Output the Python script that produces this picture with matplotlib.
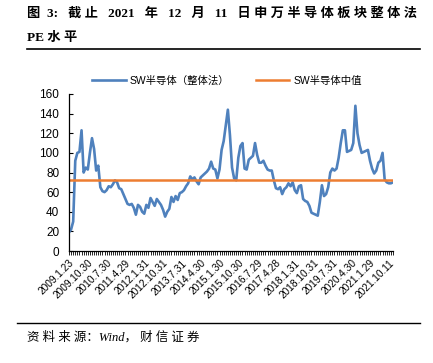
import matplotlib
matplotlib.use("Agg")
import matplotlib.pyplot as plt
import numpy as np

plt.rcParams['font.family'] = ['Liberation Sans', 'Noto Sans CJK SC', 'DejaVu Sans']

pe_values = [19, 22, 30, 92, 100, 101, 123, 80, 85, 83,
             100, 115, 104, 82, 87, 65, 61, 60, 62, 66,
             65, 68, 72, 70, 64, 63, 58, 53, 48, 47,
             48, 44, 37, 47, 45, 40, 38, 47, 44, 54,
             50, 46, 53, 50, 47, 42, 35, 40, 43, 55,
             50, 56, 52, 59, 60, 62, 66, 69, 76, 73,
             75, 71, 68, 75, 77, 79, 81, 84, 91, 84,
             83, 74, 83, 103, 112, 128, 144, 118, 85, 74,
             72, 95, 107, 110, 84, 83, 93, 95, 97, 110,
             98, 90, 90, 92, 87, 83, 82, 82, 72, 64,
             63, 65, 58, 63, 65, 69, 66, 70, 62, 59,
             66, 67, 53, 51, 50, 46, 39, 38, 37, 36,
             50, 67, 56, 58, 65, 80, 84, 82, 84, 95,
             110, 123, 123, 101, 102, 103, 110, 148, 120, 108,
             100, 101, 102, 103, 92, 84, 79, 82, 90, 92,
             100, 73, 70, 69, 69, 70]
median_value = 72.3

tick_labels = ["2009.1.23", "2009.10.30", "2010.7.30", "2011.4.29", "2012.1.31",
               "2012.10.31", "2013.7.31", "2014.4.30", "2015.1.30", "2015.10.30",
               "2016.7.29", "2017.4.28", "2018.1.31", "2018.10.31", "2019.7.31",
               "2020.4.30", "2021.1.29", "2021.10.11"]
tick_step = 9

series_name = "SW半导体（整体法）"
median_name = "SW半导体中值"

W, H = 433, 363
fig = plt.figure(figsize=(W / 100, H / 100), dpi=100)
ax = fig.add_axes([69 / W, 1 - 251 / H, (393 - 69) / W, (251 - 94) / H])

x = np.arange(len(pe_values))
blue = '#4F81BD'
orange = '#ED7D31'
l1, = ax.plot(x, pe_values, color=blue, lw=1.9, solid_joinstyle='round')
l2, = ax.plot(x, [median_value] * len(pe_values), color=orange, lw=1.8)

ax.set_xlim(0, len(pe_values) - 1)
ax.set_ylim(0, 160)
ax.set_yticks(np.arange(0, 161, 20))
ax.tick_params(axis='y', direction='in', length=3, width=0.8, labelsize=8.5, pad=7)
ax.set_xticks(np.arange(0, len(tick_labels) * tick_step, tick_step))
ax.set_xticklabels(tick_labels, rotation=45, ha='right', rotation_mode='anchor', fontsize=7.3)
ax.set_xticks(x, minor=True)
ax.tick_params(axis='x', which='both', direction='out', length=3, width=0.6, pad=2)
for s in ['top', 'right']:
    ax.spines[s].set_visible(False)
for s in ['left', 'bottom']:
    ax.spines[s].set_linewidth(0.9)

fig.legend([l1, l2], [series_name, median_name], loc='center',
           bbox_to_anchor=(227 / W, 1 - 81 / H), ncol=2, frameon=False,
           handlelength=3.2, columnspacing=2.5, handletextpad=0.4,
           prop={'family': ['Liberation Sans', 'Noto Sans CJK SC'], 'size': 7.5})

title_font = ['Liberation Serif', 'Noto Sans CJK SC']
fig.text(27 / W, 1 - 14 / H, "图  3:   截 止   2021   年   12   月   11   日 申 万 半 导 体 板 块 整 体 法",
         fontsize=9.5, fontweight='bold', family=title_font, va='center', ha='left')
fig.text(27 / W, 1 - 38 / H, "PE 水 平", fontsize=9.5, fontweight='bold',
         family=title_font, va='center', ha='left')
fig.add_artist(plt.Line2D([27 / W, 420 / W], [1 - 49 / H, 1 - 49 / H], color='black', lw=1.2))
fig.add_artist(plt.Line2D([17 / W, 420 / W], [1 - 323 / H, 1 - 323 / H], color='black', lw=1.0))
fig.text(27 / W, 1 - 337 / H, "资 料 来 源：Wind， 财 信 证 券", fontsize=9, style='italic',
         family=title_font, va='center', ha='left')

fig.savefig('out.png', dpi=100)
